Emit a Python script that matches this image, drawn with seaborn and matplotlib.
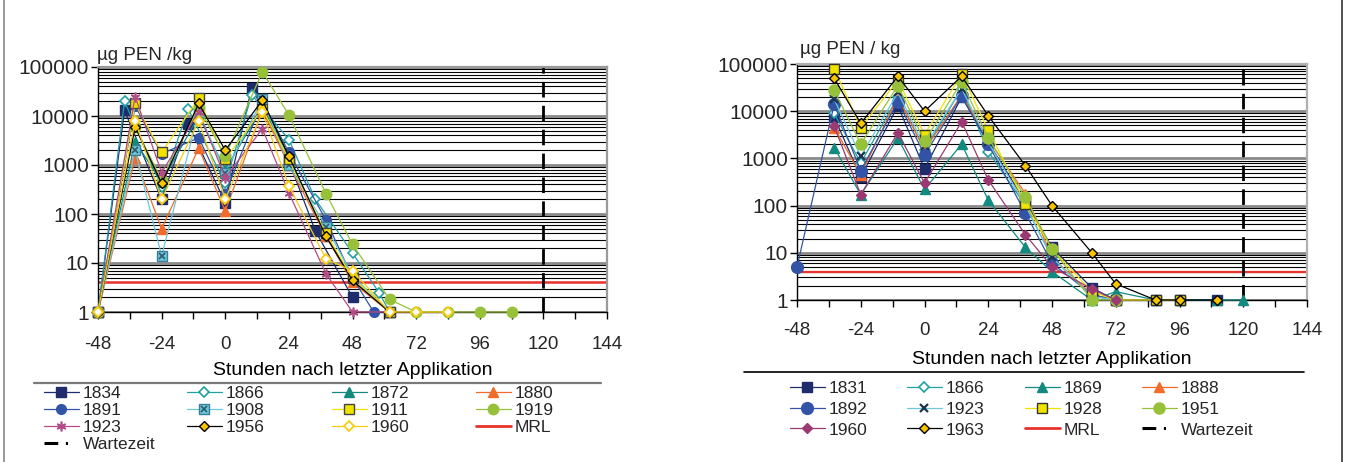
import numpy as np
import matplotlib
matplotlib.use("Agg")
import matplotlib.pyplot as plt
import seaborn as sns
from matplotlib.lines import Line2D
from matplotlib.ticker import (FixedLocator, FuncFormatter, LogLocator,
                               NullFormatter, MultipleLocator)
from matplotlib.legend_handler import HandlerTuple

# ---------------- data: left chart ----------------
L1834_h = [-48, -38, -24, -14, 0, 10, 24, 34, 48]
L1834_v = [1, 13000, 200, 7000, 170, 38000, 1200, 45, 2]
L1866_h = [-48, -38, -24, -14, 0, 10, 24, 34, 48, 58, 62]
L1866_v = [1, 20000, 350, 14000, 420, 27000, 3300, 200, 16, 2.5, 1]
L1872_h = [-48, -34, -24, -10, 0, 14, 24, 38, 48, 62]
L1872_v = [1, 3000, 450, 10000, 800, 15000, 1500, 35, 5, 1]
L1880_h = [-48, -34, -24, -10, 0, 14, 24, 38, 48, 62]
L1880_v = [1, 1400, 50, 2200, 115, 13000, 1000, 35, 4, 1]
L1891_h = [-48, -34, -24, -10, 0, 14, 24, 38, 48, 56]
L1891_v = [1, 16000, 1700, 3600, 260, 20000, 1800, 75, 5, 1]
L1908_h = [-48, -34, -24, -10, 0, 14, 24, 38, 48, 62]
L1908_v = [1, 2000, 14, 12000, 700, 22000, 1000, 55, 5.5, 1]
L1911_h = [-48, -34, -24, -10, 0, 14, 24, 38, 48, 62]
L1911_v = [1, 18000, 1800, 23000, 1300, 14000, 1300, 40, 5, 1]
L1919_h = [-48, -34, -24, -10, 0, 14, 24, 38, 48, 62, 72, 84, 96, 108]
L1919_v = [1, 6000, 500, 15000, 1500, 80000, 10500, 260, 24, 1.8, 1, 1, 1, 1]
L1923_h = [-48, -34, -24, -10, 0, 14, 24, 38, 48, 62]
L1923_v = [1, 25000, 700, 12000, 550, 5500, 270, 6, 1, 1]
L1956_h = [-48, -34, -24, -10, 0, 14, 24, 38, 48, 62]
L1956_v = [1, 6000, 420, 18000, 2000, 21000, 1500, 35, 4.4, 1]
L1960_h = [-48, -34, -24, -10, 0, 14, 24, 38, 48, 62, 72, 84]
L1960_v = [1, 8000, 200, 8000, 200, 12000, 380, 12, 7, 1, 1, 1]

# ---------------- data: right chart ----------------
R1831_h = [-34, -24, -10, 0, 14, 24, 38, 48, 63, 72, 87, 96, 110]
R1831_v = [7500, 400, 13000, 600, 20000, 2200, 120, 13, 1.8, 1, 1, 1, 1]
R1866_h = [-34, -24, -10, 0, 14, 24, 38, 48, 63, 72]
R1866_v = [9000, 800, 20000, 1500, 30000, 1400, 100, 8, 1.2, 1]
R1869_h = [-34, -24, -10, 0, 14, 24, 38, 48, 63, 72, 87, 96, 110, 120]
R1869_v = [1700, 170, 2700, 220, 2000, 130, 13, 4, 1, 1.5, 1, 1, 1, 1]
R1888_h = [-34, -24, -10, 0, 14, 24, 38, 48, 63, 72]
R1888_v = [4500, 450, 20000, 1500, 22000, 2500, 180, 8, 1.3, 1]
R1892_h = [-48, -34, -24, -10, 0, 14, 24, 38, 48, 63, 72]
R1892_v = [5, 14000, 550, 16000, 1200, 21000, 2000, 70, 6, 1.3, 1]
R1923_h = [-34, -24, -10, 0, 14, 24, 38, 48, 63, 72]
R1923_v = [18000, 1100, 25000, 1800, 30000, 2200, 100, 8, 1.2, 1]
R1928_h = [-34, -24, -10, 0, 14, 24, 38, 48, 63, 72, 87, 96]
R1928_v = [80000, 4500, 45000, 3200, 60000, 4000, 110, 12, 1.5, 1, 1, 1]
R1951_h = [-34, -24, -10, 0, 14, 24, 38, 48, 63, 72]
R1951_v = [28000, 2000, 35000, 2300, 42000, 2700, 150, 12, 1, 1]
R1960_h = [-34, -24, -10, 0, 14, 24, 38, 48, 63, 72]
R1960_v = [4800, 170, 3500, 300, 6000, 350, 24, 5, 1.7, 1]
R1963_h = [-34, -24, -10, 0, 14, 24, 38, 48, 63, 72, 87, 96, 110]
R1963_v = [50000, 5500, 55000, 10000, 55000, 8000, 700, 100, 10, 2.2, 1, 1, 1]

MRL = 4
WARTEZEIT = 120
X_TICKS = [-48, -24, 0, 24, 48, 72, 96, 120, 144]
Y_TICKS = [1, 10, 100, 1000, 10000, 100000]
X_LABEL = "Stunden nach letzter Applikation"

# ---------------- styling ----------------
NAVY = "#1F2C6E"; TEAL_O = "#22A0A4"; TEAL_T = "#138A80"; ORANGE = "#F26B2A"
BLUE = "#3253A6"; CYAN = "#6CC8DA"; YELLOW = "#F2E200"; GREEN = "#98C13A"
MAG = "#B24C86"; MAG2 = "#9B3A72"; GOLD = "#F7C400"; YEL2 = "#F8CC10"
RED = "#E8322C"

sns.set_theme(style="ticks")
plt.rcParams["font.family"] = ["Liberation Sans", "DejaVu Sans"]
plt.rcParams["axes.unicode_minus"] = False

W, H = 1346, 462
fig = plt.figure(figsize=(W / 100, H / 100), dpi=100)
fig.patch.set_facecolor("white")


def fx(px):
    return px / W


def fy(py):
    return 1 - py / H


axL = fig.add_axes([fx(98), fy(312), (607 - 98) / W, (312 - 67) / H])
axR = fig.add_axes([fx(797), fy(300), (1307 - 797) / W, (300 - 64) / H])


def series(ax, h, v, label, color, marker, ms=6, mfc=None, mec=None, mew=1.0,
           lw=0.9, zorder=3):
    sns.lineplot(x=h, y=v, ax=ax, color=color, marker=marker, markersize=ms,
                 markerfacecolor=mfc if mfc else color,
                 markeredgecolor=mec if mec else color,
                 markeredgewidth=mew, lw=lw, label=label, legend=False,
                 clip_on=False, zorder=zorder)
    return ax.lines[-1]


STAR = (6, 2, 0)

# left chart
hL = {}
hL["1834"] = series(axL, L1834_h, L1834_v, "1834", NAVY, "s", 6.5)
hL["1866"] = series(axL, L1866_h, L1866_v, "1866", TEAL_O, "D", 5.5, mfc="white", mew=1.2)
hL["1872"] = series(axL, L1872_h, L1872_v, "1872", TEAL_T, "^", 7)
hL["1880"] = series(axL, L1880_h, L1880_v, "1880", ORANGE, "^", 7)
hL["1891"] = series(axL, L1891_h, L1891_v, "1891", BLUE, "o", 7)
l1908 = series(axL, L1908_h, L1908_v, "1908", CYAN, "s", 7, mec="#3a7d96")
l1908x = series(axL, L1908_h, L1908_v, "_1908x", "#2b5a70", "x", 5, lw=0, mew=1.2)
hL["1908"] = (l1908, l1908x)
hL["1911"] = series(axL, L1911_h, L1911_v, "1911", YELLOW, "s", 7, mec="#444444")
hL["1919"] = series(axL, L1919_h, L1919_v, "1919", GREEN, "o", 7.5)
hL["1923"] = series(axL, L1923_h, L1923_v, "1923", MAG, STAR, 7, mew=1.2)
hL["1956"] = series(axL, L1956_h, L1956_v, "1956", "black", "D", 5.5, mfc=GOLD, mec="black")
hL["1960"] = series(axL, L1960_h, L1960_v, "1960", YEL2, "D", 5.5, mfc="white", mew=1.3)

# right chart
hR = {}
hR["1831"] = series(axR, R1831_h, R1831_v, "1831", NAVY, "s", 6.5)
hR["1866"] = series(axR, R1866_h, R1866_v, "1866", TEAL_O, "D", 5, mfc="white", mew=1.2)
hR["1869"] = series(axR, R1869_h, R1869_v, "1869", TEAL_T, "^", 7)
hR["1888"] = series(axR, R1888_h, R1888_v, "1888", ORANGE, "^", 7)
hR["1892"] = series(axR, R1892_h, R1892_v, "1892", BLUE, "o", 8.5)
hR["1923"] = series(axR, R1923_h, R1923_v, "1923", CYAN, "x", 6, mec="#1d3550", mew=1.6)
hR["1928"] = series(axR, R1928_h, R1928_v, "1928", YELLOW, "s", 7, mec="#333333")
hR["1951"] = series(axR, R1951_h, R1951_v, "1951", GREEN, "o", 8)
hR["1960"] = series(axR, R1960_h, R1960_v, "1960", MAG2, "D", 5)
hR["1963"] = series(axR, R1963_h, R1963_v, "1963", "black", "D", 5.5, mfc=GOLD, mec="black")

for ax, spine_col, mrl_lw in ((axL, "#9a9a9a", 1.8), (axR, "#b0b0b0", 1.6)):
    ax.set_yscale("log")
    ax.set_ylim(1, 100000)
    ax.set_xlim(-48, 144)
    ax.xaxis.set_major_locator(FixedLocator(X_TICKS))
    ax.xaxis.set_minor_locator(MultipleLocator(12))
    ax.yaxis.set_major_locator(FixedLocator(Y_TICKS))
    ax.yaxis.set_major_formatter(FuncFormatter(lambda v, p: f"{int(round(v))}"))
    ax.yaxis.set_minor_locator(LogLocator(base=10, subs=np.arange(2, 10), numticks=30))
    ax.yaxis.set_minor_formatter(NullFormatter())
    ax.grid(which="minor", axis="y", color="black", lw=0.8)
    ax.grid(which="major", axis="y", color="#8a8a8a", lw=2.0)
    ax.grid(which="both", axis="x", visible=False)
    ax.set_axisbelow(True)
    ax.tick_params(axis="y", which="minor", length=0)
    ax.tick_params(axis="y", which="major", direction="out", length=5, width=1,
                   color="black", labelsize=15, pad=1.5)
    ax.tick_params(axis="x", which="both", direction="out", length=5, width=1,
                   color="black", labelsize=13.5)
    for s in ("left", "bottom"):
        ax.spines[s].set_color("black")
        ax.spines[s].set_linewidth(1.0)
    for s in ("top", "right"):
        ax.spines[s].set_color(spine_col)
        ax.spines[s].set_linewidth(1.6)
    ax.axhline(MRL, color=RED, lw=mrl_lw, zorder=2, label="MRL")
    ax.axvline(WARTEZEIT, color="black", lw=2.0, dashes=(5.6, 3.0), zorder=2,
               label="Wartezeit")
    ax.set_xlabel(X_LABEL, fontsize=14, color="black")
    ax.set_ylabel("")
    ax.set_facecolor("white")

axL.tick_params(axis="x", which="major", pad=12)
axR.tick_params(axis="x", which="major", pad=11)
axL.xaxis.set_label_coords(0.5, -0.205)
axR.xaxis.set_label_coords(0.5, -0.215)

fig.text(fx(97), fy(55), "µg PEN /kg", fontsize=13.5, va="center", ha="left")
fig.text(fx(800), fy(50), "µg PEN / kg", fontsize=13.5, va="center", ha="left")

# separator lines above legends + panel frames
fig.add_artist(Line2D([fx(34), fx(601)], [fy(383), fy(383)], color="#7a7a7a", lw=1.6))
fig.add_artist(Line2D([fx(744), fx(1304)], [fy(372), fy(372)], color="black", lw=1.2))
fig.add_artist(Line2D([fx(4), fx(4)], [0, 1], color="#9a9a9a", lw=1.4))
fig.add_artist(Line2D([fx(1342), fx(1342)], [0, 1], color="#333333", lw=1.2))

mrl_h = Line2D([], [], color=RED, lw=2)
wz_h = Line2D([], [], color="black", lw=2.2, dashes=(4.5, 2.5, 0.7, 10))


def column_legend(items, x_px, top_px, fs, spacing):
    handles = [h for h, _ in items]
    labels = [l for _, l in items]
    fig.legend(handles, labels, loc="upper left",
               bbox_to_anchor=(fx(x_px), fy(top_px)), bbox_transform=fig.transFigure,
               frameon=False, fontsize=fs, borderpad=0, borderaxespad=0,
               handlelength=2.0, handletextpad=0.25, labelspacing=spacing,
               handler_map={tuple: HandlerTuple(ndivide=1)})


fsL = 12.5
spL = 0.1
topL = 386
column_legend([(hL["1834"], "1834"), (hL["1891"], "1891"), (hL["1923"], "1923"),
               (wz_h, "Wartezeit")], 44, topL, fsL, spL)
column_legend([(hL["1866"], "1866"), (hL["1908"], "1908"), (hL["1956"], "1956")],
              187, topL, fsL, spL)
column_legend([(hL["1872"], "1872"), (hL["1911"], "1911"), (hL["1960"], "1960")],
              332, topL, fsL, spL)
column_legend([(hL["1880"], "1880"), (hL["1919"], "1919"), (mrl_h, "MRL")],
              476, topL, fsL, spL)

fsR = 12.5
spR = 0.32
topR = 381
column_legend([(hR["1831"], "1831"), (hR["1892"], "1892"), (hR["1960"], "1960")],
              790, topR, fsR, spR)
column_legend([(hR["1866"], "1866"), (hR["1923"], "1923"), (hR["1963"], "1963")],
              907, topR, fsR, spR)
column_legend([(hR["1869"], "1869"), (hR["1928"], "1928"), (mrl_h, "MRL")],
              1025, topR, fsR, spR)
column_legend([(hR["1888"], "1888"), (hR["1951"], "1951"), (wz_h, "Wartezeit")],
              1142, topR, fsR, spR)

fig.savefig("out.png", dpi=100, facecolor="white")
